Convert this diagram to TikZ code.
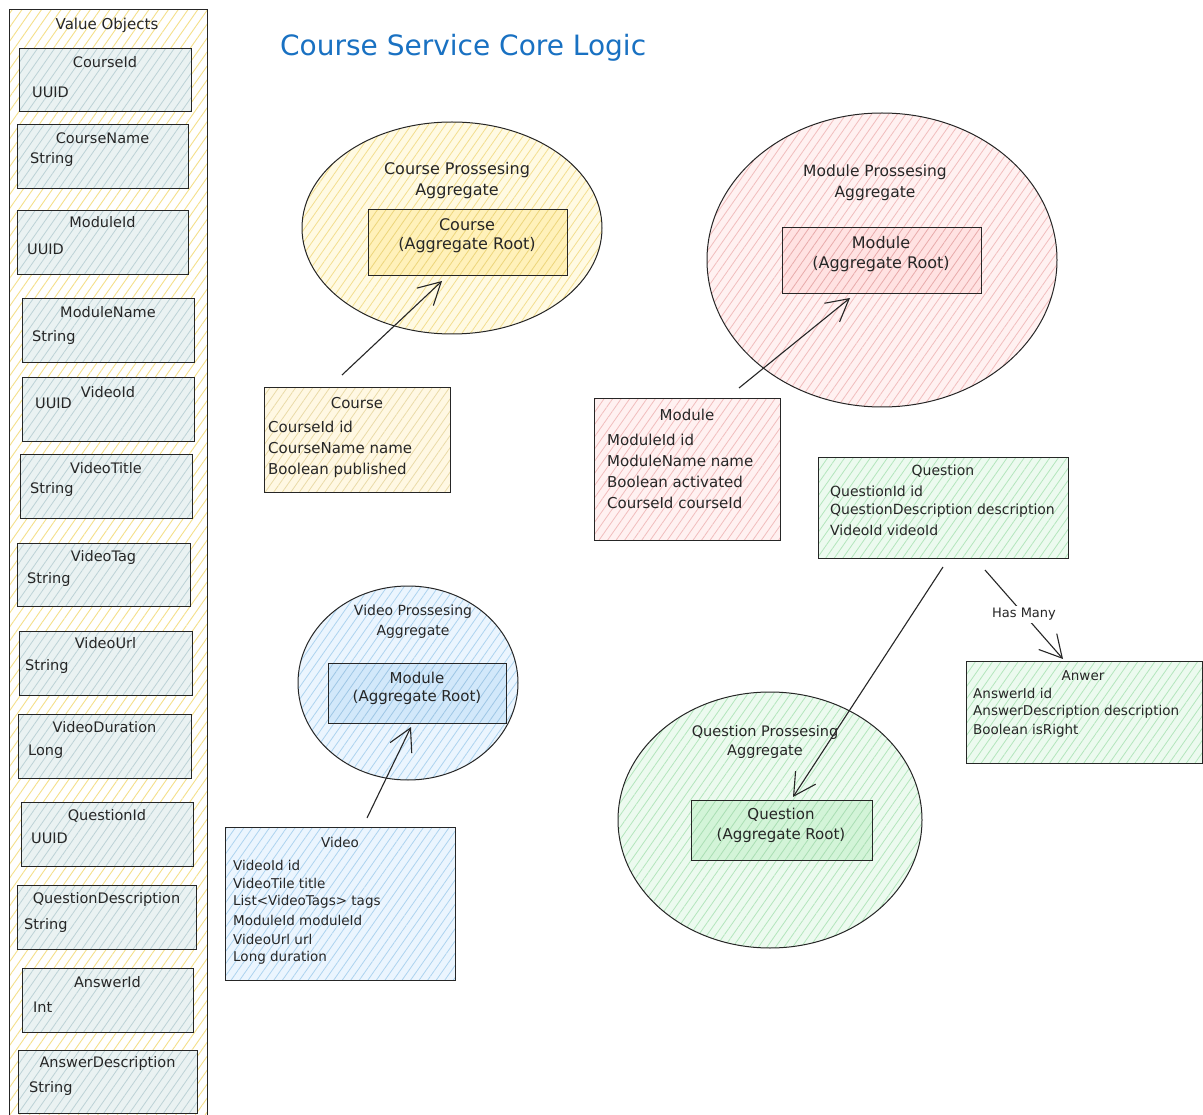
\documentclass[tikz,border=0pt]{standalone}
\usepackage{fontspec}
\setmainfont{DejaVu Sans}
\usetikzlibrary{patterns.meta,arrows.meta,shapes.geometric}

\definecolor{ink}{HTML}{262626}
\definecolor{titleBlue}{HTML}{1971C2}
\definecolor{outerHatch}{HTML}{F5E08A}
\definecolor{voFill}{HTML}{EAF2F2}
\definecolor{voHatch}{HTML}{BCD2D6}
\definecolor{yFill}{HTML}{FFFAE3}
\definecolor{yHatch}{HTML}{F3DE8E}
\definecolor{yRootFill}{HTML}{FFF1BA}
\definecolor{yRootHatch}{HTML}{EDD57A}
\definecolor{yClassFill}{HTML}{FFF8E3}
\definecolor{yClassHatch}{HTML}{EADBA8}
\definecolor{pFill}{HTML}{FFF1F1}
\definecolor{pHatch}{HTML}{F1BDBD}
\definecolor{pRootFill}{HTML}{FFE2E2}
\definecolor{pRootHatch}{HTML}{E8AAAA}
\definecolor{gFill}{HTML}{ECFAEF}
\definecolor{gHatch}{HTML}{B3E6BC}
\definecolor{gRootFill}{HTML}{D3F4D8}
\definecolor{gRootHatch}{HTML}{A9DEB3}
\definecolor{bFill}{HTML}{EBF5FE}
\definecolor{bHatch}{HTML}{ADD3EF}
\definecolor{bRootFill}{HTML}{D2E8FA}
\definecolor{bRootHatch}{HTML}{9EC6E5}

\newcommand{\fsz}[1]{\fontsize{#1}{#1}\selectfont}

\tikzset{
  hatch/.style 2 args={preaction={fill=#1},
    pattern={Lines[angle=55,distance=7pt,line width=0.8pt]}, pattern color=#2},
  box/.style={draw=ink, line width=1.2pt, rectangle, inner sep=0pt, anchor=north west},
  blob/.style={draw=ink, line width=1pt, ellipse, inner sep=0pt},
  conn/.style={draw=ink, line width=1.1pt,
    -{Straight Barb[length=22pt,width=24pt,line width=1.1pt]}},
  txt/.style={inner sep=0pt, text=ink},
  lft/.style={txt, anchor=west},
}

\begin{document}
\begin{tikzpicture}[x=1pt,y=-1pt]
\useasboundingbox (0,0) rectangle (1203,1115);
\clip (0,0) rectangle (1203,1115);
\fill[white] (0,0) rectangle (1203,1115);

% ---------- value objects column ----------
\node[box, hatch={white}{outerHatch}, line width=1.4pt,
      pattern={Lines[angle=55,distance=8pt,line width=0.9pt]},
      minimum width=198, minimum height=1125] (vo) at (9,9) {};
\node[txt, font=\fsz{15}] (vo-title) at (107,25) {Value Objects};

\foreach \n/\xa/\ya/\xb/\yb/\t/\ty/\v/\vx/\vy in {
  cid/19/48/191/111/CourseId/62/UUID/32/92,
  cname/17/124/188/188/CourseName/138/String/30/160,
  mid/17/210/188/274/ModuleId/222/UUID/27/249,
  mname/22/298/194/362/ModuleName/312/String/32/338,
  vid/22/377/194/441/VideoId/392/UUID/35/403,
  vtitle/20/454/192/518/VideoTitle/468/String/30/489,
  vtag/17/543/190/606/VideoTag/557/String/27/579,
  vurl/19/631/192/695/VideoUrl/643/String/25/666,
  vdur/18/714/191/778/VideoDuration/727/Long/28/752,
  qid/21/802/193/866/QuestionId/816/UUID/31/838,
  qdesc/17/885/196/949/QuestionDescription/899/String/24/925,
  aid/22/968/193/1032/AnswerId/982/Int/33/1007,
  adesc/18/1050/197/1113/AnswerDescription/1063/String/29/1088}{
  \node[box, hatch={voFill}{voHatch},
        minimum width={\xb-\xa}, minimum height={\yb-\ya}] (\n) at (\xa,\ya) {};
  \node[txt, font=\fsz{14.5}] (\n-t) at ({(\xa+\xb)/2},\ty) {\t};
  \node[lft, font=\fsz{14.5}] (\n-v) at (\vx,\vy) {\v};
}

% ---------- title ----------
\node[txt, text=titleBlue, font=\fsz{28}, anchor=west] (title) at (280,48)
  {Course Service Core Logic};

% ---------- course aggregate ----------
\node[blob, hatch={yFill}{yHatch}, minimum width=300, minimum height=212]
  (course-agg) at (452,228) {};
\node[txt, font=\fsz{16}] (course-agg-l1) at (457,170) {Course Prossesing};
\node[txt, font=\fsz{16}] (course-agg-l2) at (457,191) {Aggregate};
\node[box, hatch={yRootFill}{yRootHatch}, minimum width=199, minimum height=66]
  (course-root) at (368,209) {};
\node[txt, font=\fsz{16}] (course-root-l1) at (467,225) {Course};
\node[txt, font=\fsz{16}] (course-root-l2) at (467,245) {(Aggregate Root)};

\node[box, hatch={yClassFill}{yClassHatch}, minimum width=186, minimum height=105]
  (course-cls) at (264,387) {};
\node[txt, font=\fsz{15}] (course-cls-h) at (357,403) {Course};
\foreach \t [count=\i] in {CourseId id, CourseName name, Boolean published}
  \node[lft, font=\fsz{15}] (course-cls-\i) at (268,{427+21.5*(\i-1)}) {\t};

% ---------- module aggregate ----------
\node[blob, hatch={pFill}{pHatch}, minimum width=350, minimum height=294]
  (module-agg) at (882,260) {};
\node[txt, font=\fsz{15.5}] (module-agg-l1) at (875,172) {Module Prossesing};
\node[txt, font=\fsz{15.5}] (module-agg-l2) at (875,193) {Aggregate};
\node[box, hatch={pRootFill}{pRootHatch}, minimum width=199, minimum height=66]
  (module-root) at (782,227) {};
\node[txt, font=\fsz{16}] (module-root-l1) at (881,243) {Module};
\node[txt, font=\fsz{16}] (module-root-l2) at (881,264) {(Aggregate Root)};

\node[box, hatch={pFill}{pHatch}, minimum width=186, minimum height=142]
  (module-cls) at (594,398) {};
\node[txt, font=\fsz{15}] (module-cls-h) at (687,415) {Module};
\foreach \t [count=\i] in {ModuleId id, ModuleName name, Boolean activated, CourseId courseId}
  \node[lft, font=\fsz{15}] (module-cls-\i) at (607,{440+21*(\i-1)}) {\t};

% ---------- video aggregate ----------
\node[blob, hatch={bFill}{bHatch}, minimum width=220, minimum height=194]
  (video-agg) at (408,683) {};
\node[txt, font=\fsz{14}] (video-agg-l1) at (413,612) {Video Prossesing};
\node[txt, font=\fsz{14}] (video-agg-l2) at (413,632) {Aggregate};
\node[box, hatch={bRootFill}{bRootHatch}, minimum width=178, minimum height=60]
  (video-root) at (328,663) {};
\node[txt, font=\fsz{15}] (video-root-l1) at (417,678) {Module};
\node[txt, font=\fsz{15}] (video-root-l2) at (417,697) {(Aggregate Root)};

\node[box, hatch={bFill}{bHatch}, minimum width=230, minimum height=153]
  (video-cls) at (225,827) {};
\node[txt, font=\fsz{13.5}] (video-cls-h) at (340,842) {Video};
\foreach \t [count=\i] in {VideoId id, VideoTile title, List<VideoTags> tags,
                           ModuleId moduleId, VideoUrl url, Long duration}
  \node[lft, font=\fsz{13.5}] (video-cls-\i) at (233,{865+18.6*(\i-1)}) {\t};

% ---------- question aggregate ----------
\node[blob, hatch={gFill}{gHatch}, minimum width=304, minimum height=256]
  (question-agg) at (770,820) {};
\node[txt, font=\fsz{14.5}] (question-agg-l1) at (765,732) {Question Prossesing};
\node[txt, font=\fsz{14.5}] (question-agg-l2) at (765,752) {Aggregate};
\node[box, hatch={gRootFill}{gRootHatch}, minimum width=181, minimum height=60]
  (question-root) at (691,800) {};
\node[txt, font=\fsz{15}] (question-root-l1) at (781,815) {Question};
\node[txt, font=\fsz{15}] (question-root-l2) at (781,835) {(Aggregate Root)};

\node[box, hatch={gFill}{gHatch}, minimum width=250, minimum height=101]
  (question-cls) at (818,457) {};
\node[txt, font=\fsz{14}] (question-cls-h) at (943,471) {Question};
\foreach \t [count=\i] in {QuestionId id, QuestionDescription description, VideoId videoId}
  \node[lft, font=\fsz{14}] (question-cls-\i) at (830,{492+19*(\i-1)}) {\t};

\node[box, hatch={gFill}{gHatch}, minimum width=236, minimum height=102]
  (answer-cls) at (966,661) {};
\node[txt, font=\fsz{13.5}] (answer-cls-h) at (1083,676) {Anwer};
\foreach \t [count=\i] in {AnswerId id, AnswerDescription description, Boolean isRight}
  \node[lft, font=\fsz{13.5}] (answer-cls-\i) at (973,{693+19*(\i-1)}) {\t};

% ---------- connectors ----------
\coordinate (c-from) at (342,375);  \coordinate (c-to) at (442,281);
\coordinate (m-from) at (739,388);  \coordinate (m-to) at (850,298);
\coordinate (v-from) at (367,818);  \coordinate (v-to) at (411,727);
\coordinate (q-from) at (943,567);  \coordinate (q-to) at (793,797);
\coordinate (h-from) at (985,570);  \coordinate (h-to) at (1063,659);

\draw[conn] (c-from) -- (c-to);
\draw[conn] (m-from) -- (m-to);
\draw[conn] (v-from) -- (v-to);
\draw[conn] (q-from) -- (q-to);
\draw[conn] (h-from) -- node[fill=white, inner sep=2pt, text=ink, font=\fsz{13}]
  (has-many) {Has Many} (h-to);
\end{tikzpicture}
\end{document}
